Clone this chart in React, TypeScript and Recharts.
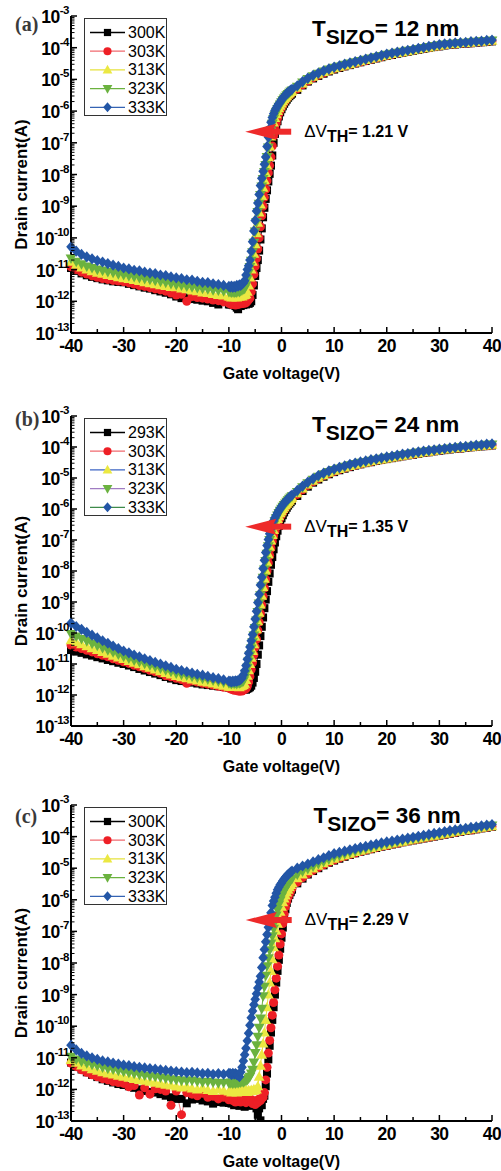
import React from 'react';
import { LineChart, Line, XAxis, YAxis, ReferenceDot } from 'recharts';

const SANS = '"Liberation Sans", Arial, Helvetica, sans-serif';
const SERIF = '"Liberation Serif", "Times New Roman", serif';

// gate voltage grid (V): 1 V steps off/on, 0.25 V steps through the switch-on
const gateV = [
  -40, -39, -38, -37, -36, -35, -34, -33, -32, -31, -30, -29, -28, -27, -26, -25, -24, -23, -22, -21, -20,
  -19, -18, -17, -16, -15, -14, -13, -12, -11, -10,
  -9.75, -9.5, -9.25, -9, -8.75, -8.5, -8.25, -8, -7.75, -7.5, -7.25, -7, -6.75, -6.5, -6.25, -6,
  -5.75, -5.5, -5.25, -5, -4.75, -4.5, -4.25, -4, -3.75, -3.5, -3.25, -3, -2.75, -2.5, -2.25, -2,
  -1.75, -1.5, -1.25, -1, -0.75, -0.5, -0.25, 0, 0.25, 0.5, 0.75, 1, 1.25, 1.5, 1.75, 2,
  3, 4, 5, 6, 7, 8, 9, 10, 11, 12, 13, 14, 15, 16, 17, 18, 19, 20, 21, 22, 23, 24, 25, 26, 27, 28, 29, 30,
  31, 32, 33, 34, 35, 36, 37, 38, 39, 40,
];

// drain current, log10(A). rows: -40..-10 / -9.75..2 / 3..40
// (a) T_SIZO = 12 nm
const a300 = [
  -10.95, -11.04, -11.12, -11.18, -11.23, -11.27, -11.31, -11.34, -11.37, -11.39, -11.4, -11.45, -11.49, -11.53, -11.57, -11.6, -11.65, -11.69, -11.73, -11.78, -11.85, -11.9, -11.88, -11.93, -11.95, -11.98, -12.0, -12.05, -12.1, -12.02, -12.1,
  -12.1, -12.05, -12.12, -12.08, -12.15, -12.2, -12.25, -12.12, -12.15, -12.1, -12.12, -12.08, -12.1, -12.05, -12.08, -12.05, -12.0, -11.8, -11.5, -11.2, -10.95, -10.7, -10.4, -10.05, -9.7, -9.35, -9.05, -8.77, -8.5, -8.22, -7.98, -7.72, -7.4, -7.0, -6.72, -6.5, -6.32, -6.17, -6.04, -5.94, -5.85, -5.77, -5.7, -5.64, -5.58, -5.53, -5.49, -5.45,
  -5.33, -5.19, -5.07, -4.97, -4.89, -4.82, -4.75, -4.69, -4.64, -4.59, -4.55, -4.5, -4.46, -4.42, -4.38, -4.34, -4.3, -4.26, -4.23, -4.19, -4.16, -4.13, -4.1, -4.07, -4.04, -4.01, -3.98, -3.96, -3.93, -3.91, -3.9, -3.88, -3.87, -3.86, -3.84, -3.83, -3.82, -3.8,
];
const a303 = [
  -10.91, -11.0, -11.08, -11.14, -11.2, -11.24, -11.28, -11.31, -11.34, -11.36, -11.38, -11.42, -11.46, -11.5, -11.53, -11.57, -11.61, -11.64, -11.68, -11.74, -11.8, -11.78, -12.0, -11.85, -11.88, -11.9, -11.93, -11.96, -11.98, -12.02, -12.06,
  -12.05, -12.1, -12.02, -12.08, -12.12, -12.05, -12.1, -12.06, -12.08, -12.04, -12.07, -12.02, -12.05, -12.0, -11.95, -11.9, -11.7, -11.45, -11.15, -10.9, -10.65, -10.35, -10.0, -9.65, -9.3, -9.0, -8.72, -8.47, -8.2, -7.95, -7.72, -7.45, -7.1, -6.78, -6.55, -6.38, -6.22, -6.08, -5.97, -5.88, -5.8, -5.73, -5.66, -5.6, -5.55, -5.5, -5.46, -5.42,
  -5.3, -5.17, -5.05, -4.95, -4.87, -4.8, -4.73, -4.67, -4.62, -4.58, -4.53, -4.49, -4.45, -4.41, -4.37, -4.33, -4.29, -4.25, -4.22, -4.18, -4.15, -4.12, -4.09, -4.06, -4.03, -4.0, -3.97, -3.95, -3.92, -3.9, -3.89, -3.87, -3.86, -3.85, -3.83, -3.82, -3.81, -3.79,
];
const a313 = [
  -10.75, -10.85, -10.93, -11.0, -11.05, -11.1, -11.13, -11.17, -11.2, -11.24, -11.27, -11.3, -11.33, -11.36, -11.4, -11.43, -11.46, -11.49, -11.52, -11.55, -11.56, -11.6, -11.62, -11.66, -11.68, -11.72, -11.74, -11.77, -11.8, -11.82, -11.85,
  -11.85, -11.88, -11.84, -11.87, -11.85, -11.88, -11.84, -11.86, -11.83, -11.85, -11.82, -11.8, -11.78, -11.7, -11.5, -11.25, -11.0, -10.75, -10.5, -10.2, -9.85, -9.52, -9.2, -8.95, -8.68, -8.42, -8.18, -7.95, -7.72, -7.45, -7.12, -6.8, -6.55, -6.36, -6.22, -6.1, -6.0, -5.91, -5.83, -5.76, -5.69, -5.63, -5.58, -5.53, -5.48, -5.44, -5.4, -5.37,
  -5.26, -5.13, -5.02, -4.92, -4.84, -4.77, -4.71, -4.65, -4.6, -4.56, -4.52, -4.47, -4.43, -4.39, -4.35, -4.31, -4.27, -4.24, -4.2, -4.17, -4.14, -4.11, -4.08, -4.05, -4.02, -3.99, -3.96, -3.94, -3.91, -3.89, -3.88, -3.86, -3.85, -3.84, -3.82, -3.81, -3.8, -3.78,
];
const a323 = [
  -10.65, -10.75, -10.83, -10.9, -10.95, -11.0, -11.03, -11.07, -11.1, -11.14, -11.17, -11.2, -11.23, -11.26, -11.29, -11.32, -11.35, -11.38, -11.41, -11.45, -11.48, -11.5, -11.53, -11.55, -11.58, -11.6, -11.62, -11.65, -11.66, -11.68, -11.7,
  -11.7, -11.72, -11.7, -11.73, -11.7, -11.72, -11.68, -11.7, -11.67, -11.65, -11.62, -11.6, -11.5, -11.3, -11.1, -10.92, -10.72, -10.45, -10.15, -9.8, -9.5, -9.18, -8.92, -8.65, -8.38, -8.14, -7.92, -7.7, -7.45, -7.15, -6.85, -6.6, -6.4, -6.25, -6.13, -6.03, -5.94, -5.86, -5.79, -5.72, -5.66, -5.6, -5.55, -5.5, -5.46, -5.42, -5.38, -5.35,
  -5.23, -5.1, -4.99, -4.9, -4.82, -4.75, -4.69, -4.63, -4.59, -4.54, -4.5, -4.46, -4.42, -4.38, -4.34, -4.3, -4.26, -4.22, -4.19, -4.16, -4.13, -4.1, -4.07, -4.04, -4.01, -3.98, -3.95, -3.92, -3.9, -3.88, -3.87, -3.85, -3.84, -3.83, -3.81, -3.8, -3.79, -3.77,
];
const a333 = [
  -10.28, -10.42, -10.52, -10.6, -10.66, -10.72, -10.76, -10.81, -10.86, -10.9, -10.95, -10.98, -11.02, -11.04, -11.08, -11.11, -11.13, -11.17, -11.19, -11.23, -11.26, -11.28, -11.32, -11.33, -11.37, -11.4, -11.41, -11.45, -11.47, -11.5, -11.53,
  -11.55, -11.52, -11.56, -11.53, -11.55, -11.5, -11.52, -11.48, -11.5, -11.45, -11.42, -11.35, -11.17, -11.0, -10.88, -10.7, -10.42, -10.12, -9.78, -9.45, -9.15, -8.9, -8.63, -8.35, -8.12, -7.9, -7.68, -7.45, -7.12, -6.82, -6.55, -6.35, -6.2, -6.08, -5.98, -5.9, -5.83, -5.77, -5.71, -5.64, -5.59, -5.54, -5.49, -5.45, -5.41, -5.37, -5.34, -5.31,
  -5.2, -5.07, -4.96, -4.87, -4.8, -4.73, -4.67, -4.61, -4.57, -4.52, -4.48, -4.44, -4.4, -4.36, -4.32, -4.28, -4.24, -4.2, -4.17, -4.14, -4.11, -4.08, -4.05, -4.02, -3.99, -3.96, -3.93, -3.9, -3.88, -3.87, -3.85, -3.84, -3.83, -3.81, -3.8, -3.79, -3.77, -3.76,
];

// (b) T_SIZO = 24 nm
const b293 = [
  -10.55, -10.6, -10.64, -10.69, -10.73, -10.78, -10.82, -10.87, -10.91, -10.96, -11.0, -11.05, -11.1, -11.16, -11.21, -11.26, -11.31, -11.36, -11.42, -11.47, -11.52, -11.55, -11.58, -11.6, -11.63, -11.66, -11.68, -11.7, -11.72, -11.74, -11.76,
  -11.76, -11.78, -11.75, -11.8, -11.77, -11.79, -11.82, -11.8, -11.83, -11.8, -11.82, -11.8, -11.83, -11.8, -11.78, -11.75, -11.7, -11.6, -11.45, -11.25, -11.0, -10.7, -10.4, -10.1, -9.8, -9.5, -9.2, -8.92, -8.65, -8.35, -8.08, -7.8, -7.55, -7.3, -7.08, -6.88, -6.7, -6.55, -6.42, -6.3, -6.2, -6.11, -6.03, -5.96, -5.89, -5.83, -5.78, -5.73,
  -5.58, -5.42, -5.28, -5.15, -5.05, -4.96, -4.88, -4.81, -4.75, -4.7, -4.65, -4.6, -4.56, -4.52, -4.49, -4.45, -4.42, -4.39, -4.36, -4.33, -4.3, -4.27, -4.25, -4.22, -4.19, -4.17, -4.14, -4.12, -4.1, -4.08, -4.06, -4.05, -4.03, -4.01, -4.0, -3.98, -3.97, -3.95,
];
const b303 = [
  -10.39, -10.45, -10.5, -10.56, -10.61, -10.67, -10.72, -10.77, -10.83, -10.88, -10.93, -10.98, -11.04, -11.09, -11.14, -11.2, -11.25, -11.3, -11.38, -11.41, -11.46, -11.5, -11.62, -11.55, -11.58, -11.62, -11.65, -11.68, -11.72, -11.75, -11.78,
  -11.78, -11.82, -11.8, -11.85, -11.82, -11.86, -11.83, -11.88, -11.85, -11.87, -11.84, -11.82, -11.8, -11.72, -11.58, -11.4, -11.18, -10.95, -10.7, -10.45, -10.2, -9.92, -9.65, -9.38, -9.1, -8.82, -8.55, -8.28, -8.0, -7.74, -7.5, -7.26, -7.05, -6.87, -6.72, -6.58, -6.46, -6.36, -6.26, -6.18, -6.1, -6.03, -5.96, -5.9, -5.84, -5.79, -5.74, -5.69,
  -5.53, -5.38, -5.24, -5.12, -5.02, -4.93, -4.86, -4.79, -4.73, -4.68, -4.63, -4.59, -4.55, -4.51, -4.48, -4.44, -4.41, -4.38, -4.35, -4.32, -4.29, -4.26, -4.24, -4.21, -4.18, -4.16, -4.13, -4.11, -4.09, -4.07, -4.05, -4.04, -4.02, -4.0, -3.99, -3.97, -3.96, -3.94,
];
const b313 = [
  -10.23, -10.3, -10.36, -10.43, -10.49, -10.55, -10.61, -10.67, -10.73, -10.79, -10.84, -10.9, -10.96, -11.01, -11.07, -11.12, -11.18, -11.23, -11.29, -11.34, -11.39, -11.43, -11.46, -11.5, -11.53, -11.57, -11.6, -11.63, -11.67, -11.7, -11.73,
  -11.72, -11.74, -11.7, -11.73, -11.71, -11.74, -11.72, -11.75, -11.72, -11.7, -11.68, -11.64, -11.52, -11.38, -11.2, -11.0, -10.8, -10.58, -10.36, -10.12, -9.88, -9.62, -9.35, -9.08, -8.8, -8.52, -8.25, -7.98, -7.72, -7.46, -7.22, -7.02, -6.84, -6.68, -6.54, -6.42, -6.32, -6.23, -6.14, -6.07, -6.0, -5.94, -5.88, -5.83, -5.78, -5.73, -5.68, -5.64,
  -5.49, -5.34, -5.21, -5.09, -4.99, -4.91, -4.83, -4.77, -4.71, -4.66, -4.61, -4.57, -4.53, -4.5, -4.46, -4.43, -4.4, -4.37, -4.34, -4.31, -4.28, -4.25, -4.22, -4.2, -4.17, -4.15, -4.12, -4.1, -4.08, -4.06, -4.04, -4.03, -4.01, -3.99, -3.98, -3.96, -3.95, -3.93,
];
const b323 = [
  -10.03, -10.11, -10.19, -10.26, -10.34, -10.41, -10.48, -10.55, -10.62, -10.69, -10.76, -10.82, -10.88, -10.93, -10.99, -11.04, -11.09, -11.14, -11.2, -11.25, -11.3, -11.34, -11.37, -11.41, -11.44, -11.47, -11.5, -11.53, -11.56, -11.59, -11.62,
  -11.62, -11.64, -11.6, -11.63, -11.61, -11.64, -11.6, -11.62, -11.6, -11.58, -11.55, -11.45, -11.3, -11.12, -10.92, -10.72, -10.5, -10.3, -10.08, -9.84, -9.6, -9.32, -9.05, -8.78, -8.5, -8.22, -7.95, -7.68, -7.44, -7.2, -7.0, -6.82, -6.66, -6.52, -6.4, -6.3, -6.21, -6.13, -6.06, -5.99, -5.93, -5.87, -5.82, -5.77, -5.72, -5.67, -5.63, -5.59,
  -5.45, -5.3, -5.17, -5.06, -4.96, -4.88, -4.81, -4.74, -4.69, -4.64, -4.59, -4.55, -4.51, -4.48, -4.44, -4.41, -4.38, -4.35, -4.32, -4.29, -4.26, -4.23, -4.2, -4.18, -4.15, -4.13, -4.11, -4.09, -4.07, -4.05, -4.03, -4.01, -4.0, -3.98, -3.96, -3.95, -3.93, -3.92,
];
const b333 = [
  -9.68, -9.79, -9.88, -9.98, -10.07, -10.16, -10.25, -10.33, -10.42, -10.5, -10.58, -10.64, -10.71, -10.77, -10.83, -10.89, -10.95, -11.0, -11.06, -11.11, -11.17, -11.21, -11.25, -11.29, -11.33, -11.36, -11.4, -11.44, -11.47, -11.51, -11.55,
  -11.56, -11.58, -11.55, -11.57, -11.54, -11.56, -11.53, -11.52, -11.5, -11.45, -11.35, -11.22, -11.05, -10.85, -10.65, -10.45, -10.25, -10.05, -9.8, -9.55, -9.3, -9.02, -8.75, -8.45, -8.2, -7.92, -7.65, -7.4, -7.18, -6.98, -6.8, -6.64, -6.5, -6.38, -6.28, -6.2, -6.12, -6.05, -5.98, -5.92, -5.86, -5.81, -5.76, -5.71, -5.67, -5.62, -5.58, -5.55,
  -5.4, -5.26, -5.13, -5.02, -4.92, -4.84, -4.77, -4.71, -4.66, -4.61, -4.56, -4.52, -4.48, -4.45, -4.41, -4.38, -4.35, -4.32, -4.29, -4.26, -4.23, -4.21, -4.18, -4.16, -4.13, -4.11, -4.09, -4.07, -4.05, -4.03, -4.01, -3.99, -3.98, -3.96, -3.94, -3.93, -3.91, -3.9,
];

// (c) T_SIZO = 36 nm
const c300 = [
  -11.15, -11.27, -11.37, -11.46, -11.54, -11.61, -11.68, -11.73, -11.78, -11.83, -11.86, -11.9, -11.95, -12.0, -12.05, -12.08, -12.1, -12.15, -12.2, -12.25, -12.3, -12.3, -12.44, -12.32, -12.3, -12.35, -12.38, -12.45, -12.4, -12.42, -12.43,
  -12.42, -12.45, -12.4, -12.5, -12.44, -12.48, -12.42, -12.52, -12.45, -12.5, -12.44, -12.55, -12.48, -12.5, -12.45, -12.52, -12.48, -12.5, -12.45, -12.46, -12.6, -12.8, -12.6, -12.98, -12.5, -12.3, -12.2, -11.9, -11.5, -11.05, -10.62, -10.2, -9.8, -9.4, -9.0, -8.62, -8.25, -7.9, -7.55, -7.2, -6.88, -6.56, -6.3, -6.1, -5.96, -5.85, -5.76, -5.68,
  -5.48, -5.33, -5.2, -5.09, -5.0, -4.91, -4.83, -4.76, -4.7, -4.64, -4.58, -4.53, -4.48, -4.44, -4.4, -4.36, -4.32, -4.29, -4.25, -4.22, -4.18, -4.15, -4.12, -4.09, -4.06, -4.03, -4.0, -3.97, -3.94, -3.91, -3.88, -3.85, -3.82, -3.8, -3.77, -3.74, -3.72, -3.69,
];
const c303 = [
  -11.17, -11.28, -11.38, -11.46, -11.54, -11.6, -11.66, -11.7, -11.75, -11.78, -11.81, -11.92, -11.88, -12.18, -11.95, -12.15, -11.98, -12.0, -12.05, -12.5, -12.05, -12.8, -12.1, -12.15, -12.2, -12.12, -12.25, -12.22, -12.3, -12.25, -12.33,
  -12.3, -12.25, -12.35, -12.28, -12.4, -12.3, -12.35, -12.28, -12.4, -12.32, -12.38, -12.3, -12.42, -12.35, -12.3, -12.38, -12.32, -12.45, -12.4, -12.48, -12.35, -12.42, -12.3, -12.35, -12.28, -12.25, -12.1, -11.7, -11.3, -10.85, -10.45, -10.05, -9.65, -9.25, -8.85, -8.48, -8.1, -7.75, -7.4, -7.08, -6.75, -6.45, -6.22, -6.05, -5.92, -5.81, -5.72, -5.64,
  -5.45, -5.3, -5.18, -5.07, -4.98, -4.89, -4.81, -4.74, -4.68, -4.62, -4.57, -4.52, -4.47, -4.43, -4.39, -4.35, -4.31, -4.28, -4.24, -4.21, -4.17, -4.14, -4.11, -4.08, -4.05, -4.02, -3.99, -3.96, -3.93, -3.9, -3.87, -3.84, -3.81, -3.79, -3.76, -3.73, -3.71, -3.68,
];
const c313 = [
  -11.07, -11.16, -11.24, -11.3, -11.36, -11.41, -11.46, -11.5, -11.53, -11.57, -11.6, -11.63, -11.67, -11.7, -11.73, -11.76, -11.79, -11.82, -11.85, -11.88, -11.91, -11.94, -11.92, -11.97, -12.0, -11.96, -12.02, -12.05, -12.0, -12.04, -12.07,
  -12.05, -12.1, -12.0, -12.08, -12.02, -12.1, -12.04, -12.08, -12.02, -12.06, -12.0, -12.05, -12.02, -12.08, -12.03, -12.06, -12.02, -12.05, -12.0, -12.03, -12.0, -11.9, -11.6, -11.25, -10.9, -10.55, -10.2, -9.8, -9.4, -9.0, -8.62, -8.25, -7.88, -7.5, -7.22, -6.98, -6.76, -6.56, -6.38, -6.22, -6.08, -5.96, -5.86, -5.77, -5.68, -5.6, -5.53, -5.47,
  -5.32, -5.2, -5.1, -5.01, -4.92, -4.84, -4.77, -4.7, -4.64, -4.59, -4.54, -4.49, -4.45, -4.41, -4.37, -4.33, -4.29, -4.26, -4.22, -4.19, -4.16, -4.12, -4.09, -4.06, -4.03, -4.0, -3.97, -3.94, -3.91, -3.88, -3.85, -3.82, -3.8, -3.77, -3.74, -3.72, -3.69, -3.67,
];
const c323 = [
  -10.97, -11.05, -11.12, -11.17, -11.22, -11.26, -11.3, -11.34, -11.37, -11.41, -11.44, -11.47, -11.5, -11.53, -11.56, -11.58, -11.6, -11.62, -11.65, -11.68, -11.7, -11.72, -11.73, -11.72, -11.75, -11.77, -11.76, -11.78, -11.8, -11.79, -11.8,
  -11.8, -11.78, -11.82, -11.79, -11.81, -11.78, -11.8, -11.76, -11.78, -11.75, -11.77, -11.74, -11.72, -11.7, -11.65, -11.6, -11.5, -11.38, -11.15, -10.85, -10.6, -10.33, -10.05, -9.76, -9.45, -9.05, -8.75, -8.4, -8.1, -7.85, -7.6, -7.38, -7.15, -6.92, -6.7, -6.5, -6.32, -6.15, -6.02, -5.9, -5.8, -5.72, -5.64, -5.57, -5.5, -5.44, -5.38, -5.33,
  -5.2, -5.1, -5.02, -4.94, -4.86, -4.79, -4.72, -4.65, -4.6, -4.55, -4.5, -4.46, -4.42, -4.38, -4.34, -4.3, -4.27, -4.23, -4.2, -4.17, -4.13, -4.1, -4.07, -4.04, -4.01, -3.98, -3.95, -3.92, -3.89, -3.86, -3.83, -3.8, -3.78, -3.75, -3.73, -3.7, -3.68, -3.65,
];
const c333 = [
  -10.6, -10.75, -10.86, -10.94, -11.0, -11.05, -11.1, -11.13, -11.17, -11.2, -11.23, -11.25, -11.28, -11.3, -11.32, -11.34, -11.36, -11.38, -11.4, -11.42, -11.44, -11.45, -11.47, -11.46, -11.48, -11.5, -11.49, -11.52, -11.5, -11.52, -11.49,
  -11.5, -11.53, -11.49, -11.52, -11.5, -11.53, -11.55, -11.6, -11.45, -11.3, -11.1, -10.9, -10.7, -10.46, -10.22, -9.97, -9.73, -9.52, -9.32, -9.15, -8.97, -8.79, -8.6, -8.42, -8.14, -7.83, -7.57, -7.33, -7.1, -6.87, -6.64, -6.41, -6.18, -6.04, -5.92, -5.79, -5.68, -5.6, -5.52, -5.47, -5.4, -5.34, -5.29, -5.24, -5.2, -5.16, -5.12, -5.09,
  -5.0, -4.93, -4.87, -4.8, -4.73, -4.67, -4.6, -4.54, -4.5, -4.46, -4.42, -4.38, -4.34, -4.31, -4.27, -4.24, -4.2, -4.17, -4.14, -4.11, -4.08, -4.05, -4.02, -3.99, -3.96, -3.93, -3.9, -3.87, -3.84, -3.81, -3.79, -3.76, -3.74, -3.71, -3.69, -3.66, -3.64, -3.62,
];

const tempsAC = ['300K', '303K', '313K', '323K', '333K'];
const tempsB = ['293K', '303K', '313K', '323K', '333K'];

const xTicks = [-40, -35, -30, -25, -20, -15, -10, -5, 0, 5, 10, 15, 20, 25, 30, 35, 40];
const topTicks = [-40, -32, -24, -16, -8, 0, 8, 16, 24, 32, 40];
const decades = [-13, -12, -11, -10, -9, -8, -7, -6, -5, -4, -3];
const yMajor = decades.map((e) => Math.pow(10, e));
const yAll = [
  ...yMajor,
  ...decades.slice(0, -1).flatMap((e) => [2, 3, 4, 5, 6, 7, 8, 9].map((k) => k * Math.pow(10, e))),
].sort((p, q) => p - q);

const markerFill = ['#000000', '#ee1f26', '#ebe842', '#6bb23f', '#2356a6'];
const markerKind = ['square', 'circle', 'up', 'down', 'diamond'];
const lineAC = ['#000000', '#f06a6f', '#e6e23c', '#6bb23f', '#3563b3'];
const lineB = ['#000000', '#f06a6f', '#3d64c4', '#a07cc2', '#3e8a4a'];

function Marker({ kind, cx, cy, fill, s = 1 }: { kind: string; cx: number; cy: number; fill: string; s?: number }) {
  switch (kind) {
    case 'square':
      return <rect x={cx - 4 * s} y={cy - 4 * s} width={8 * s} height={8 * s} fill={fill} />;
    case 'circle':
      return <circle cx={cx} cy={cy} r={4.5 * s} fill={fill} />;
    case 'up':
      return <polygon points={`${cx},${cy - 5.6 * s} ${cx - 5.4 * s},${cy + 4 * s} ${cx + 5.4 * s},${cy + 4 * s}`} fill={fill} />;
    case 'down':
      return <polygon points={`${cx},${cy + 5.6 * s} ${cx - 5.4 * s},${cy - 4 * s} ${cx + 5.4 * s},${cy - 4 * s}`} fill={fill} />;
    default:
      return <polygon points={`${cx},${cy - 5.6 * s} ${cx + 4.8 * s},${cy} ${cx},${cy + 5.6 * s} ${cx - 4.8 * s},${cy}`} fill={fill} />;
  }
}

const dotFor = (k: number) => (p: any) => {
  const { cx, cy, index } = p;
  if (cx == null || cy == null || !isFinite(cy)) return <g key={`n${index}`} />;
  return <Marker key={`m${index}`} kind={markerKind[k]} cx={cx} cy={cy} fill={markerFill[k]} />;
};

function LeftTick(props: any) {
  const { x, y, payload } = props;
  const e = Math.log10(payload.value);
  const major = Math.abs(e - Math.round(e)) < 1e-6;
  return (
    <g>
      <line x1={x} x2={x + (major ? 6 : 3.5)} y1={y} y2={y} stroke="#000" strokeWidth={major ? 1.5 : 1} />
      {major && (
        <text x={x - 2} y={y + 7} textAnchor="end" fontFamily={SANS} fontWeight="bold" fontSize={17.5} fill="#000" letterSpacing={-0.5}>
          10
          <tspan dy={-9} fontSize={11.5}>{Math.round(e)}</tspan>
        </text>
      )}
    </g>
  );
}

function RightTick(props: any) {
  const { x, y } = props;
  return <line x1={x} x2={x - 5} y1={y} y2={y} stroke="#000" strokeWidth={1.2} />;
}

function BottomTick(props: any) {
  const { x, y, payload } = props;
  const major = payload.value % 10 === 0;
  return (
    <g>
      <line x1={x} x2={x} y1={y} y2={y - (major ? 6 : 4)} stroke="#000" strokeWidth={1.5} />
      {major && (
        <text x={x} y={y + 19} textAnchor="middle" fontFamily={SANS} fontWeight="bold" fontSize={17.5} fill="#000" letterSpacing={-0.6}>
          {payload.value}
        </text>
      )}
    </g>
  );
}

function TopTick(props: any) {
  const { x, y } = props;
  return <line x1={x} x2={x} y1={y} y2={y + 5} stroke="#000" strokeWidth={1.2} />;
}

function LegendBox({ names, lineColors }: { names: string[]; lineColors: string[] }) {
  return (
    <svg width={83} height={98} style={{ position: 'absolute', left: 84, top: 18 }}>
      <rect x={0.5} y={0.5} width={82} height={97} fill="#fff" stroke="#333" strokeWidth={1} />
      {names.map((n, i) => {
        const y = 14.5 + i * 18.7;
        return (
          <g key={n}>
            <line x1={6} x2={41} y1={y} y2={y} stroke={lineColors[i]} strokeWidth={1.3} />
            <Marker kind={markerKind[i]} cx={23.5} cy={y} fill={markerFill[i]} s={0.9} />
            <text x={44} y={y + 5.5} fontFamily={SANS} fontSize={16} fill="#000">
              {n}
            </text>
          </g>
        );
      })}
    </svg>
  );
}

type PanelCfg = {
  tag: string;
  tagDy: number;
  top: number;
  plotH: number;
  names: string[];
  lineColors: string[];
  series: number[][];
  thick: string;
  dvth: string;
  arrow: [number, number];
  title: [number, number];
};

const panels: PanelCfg[] = [
  { tag: '(a)', tagDy: 15, top: 0, plotH: 317, names: tempsAC, lineColors: lineAC, series: [a300, a303, a313, a323, a333], thick: '12', dvth: '1.21', arrow: [-6.9, -6.65], title: [5.8, -3.63] },
  { tag: '(b)', tagDy: 10, top: 400, plotH: 310, names: tempsB, lineColors: lineB, series: [b293, b303, b313, b323, b333], thick: '24', dvth: '1.35', arrow: [-6.9, -6.57], title: [5.8, -3.52] },
  { tag: '(c)', tagDy: 18, top: 789, plotH: 316, names: tempsAC, lineColors: lineAC, series: [c300, c303, c313, c323, c333], thick: '36', dvth: '2.29', arrow: [-6.8, -6.64], title: [6.1, -3.57] },
];

function buildRows(series: number[][]) {
  return gateV.map((v, i) => {
    const row: Record<string, number> = { v };
    series.forEach((s, k) => {
      if (s[i] !== undefined) row[`s${k}`] = Math.pow(10, s[i]);
    });
    return row;
  });
}

function Panel({ cfg }: { cfg: PanelCfg }) {
  const rows = buildRows(cfg.series);
  const plotTop = 16;
  const height = plotTop + cfg.plotH + 57;

  const arrowShape = (p: any) => (
    <g>
      <polygon points={`${p.cx},${p.cy} ${p.cx + 31},${p.cy - 8} ${p.cx + 27},${p.cy} ${p.cx + 31},${p.cy + 8}`} fill="#ee2a2a" />
      <rect x={p.cx + 26} y={p.cy - 3} width={20} height={6} fill="#ee2a2a" />
      <text x={p.cx + 59} y={p.cy + 5} fontFamily={SANS} fill="#000">
        <tspan fontSize={17}>ΔV</tspan>
        <tspan fontSize={16} fontWeight="bold" dy={5}>TH</tspan>
        <tspan fontSize={16} fontWeight="bold" dy={-5}>= {cfg.dvth} V</tspan>
      </text>
    </g>
  );

  const titleShape = (p: any) => (
    <text x={p.cx} y={p.cy} fontFamily={SANS} fontWeight="bold" fill="#000">
      <tspan fontSize={22.5}>T</tspan>
      <tspan fontSize={21} dy={8}>SIZO</tspan>
      <tspan fontSize={22.5} dy={-8}>= {cfg.thick} nm</tspan>
    </text>
  );

  const tagShape = (p: any) => (
    <text x={p.cx - 56} y={p.cy + cfg.tagDy} fontFamily={SERIF} fontWeight="bold" fontSize={20} fill="#3a3a3a">
      {cfg.tag}
    </text>
  );

  return (
    <div style={{ position: 'absolute', left: 0, top: cfg.top }}>
      <LineChart width={501} height={height} data={rows} margin={{ top: plotTop, right: 9, bottom: 0, left: 0 }}>
        <XAxis
          xAxisId="b"
          dataKey="v"
          type="number"
          domain={[-40, 40]}
          ticks={xTicks}
          interval={0}
          tickSize={0}
          tickMargin={0}
          tickLine={false}
          tick={BottomTick}
          axisLine={{ stroke: '#000', strokeWidth: 2 }}
          height={57}
          label={{
            content: (lp: any) => {
              const vb = lp.viewBox;
              return (
                <text x={vb.x + vb.width / 2} y={vb.y + 46} textAnchor="middle" fontFamily={SANS} fontWeight="bold" fontSize={16} fill="#000">
                  Gate voltage(V)
                </text>
              );
            },
          }}
        />
        <XAxis
          xAxisId="t"
          orientation="top"
          type="number"
          domain={[-40, 40]}
          ticks={topTicks}
          interval={0}
          tickSize={0}
          tickMargin={0}
          tickLine={false}
          tick={TopTick}
          axisLine={{ stroke: '#000', strokeWidth: 1.5 }}
          height={0}
        />
        <YAxis
          yAxisId="l"
          scale="log"
          domain={[1e-13, 1e-3]}
          allowDataOverflow
          ticks={yAll}
          interval={0}
          tickSize={0}
          tickMargin={0}
          tickLine={false}
          tick={LeftTick}
          axisLine={{ stroke: '#000', strokeWidth: 2 }}
          width={71}
          label={{
            content: (lp: any) => {
              const vb = lp.viewBox;
              const cy = vb.y + vb.height / 2 + 10;
              return (
                <text transform={`translate(27, ${cy}) rotate(-90)`} textAnchor="middle" fontFamily={SANS} fontWeight="bold" fontSize={17} fill="#000">
                  Drain current(A)
                </text>
              );
            },
          }}
        />
        <YAxis
          yAxisId="r"
          orientation="right"
          scale="log"
          domain={[1e-13, 1e-3]}
          allowDataOverflow
          ticks={yMajor}
          interval={0}
          tickSize={0}
          tickMargin={0}
          tickLine={false}
          tick={RightTick}
          axisLine={{ stroke: '#000', strokeWidth: 1.5 }}
          width={0}
        />
        {cfg.series.map((_, k) => (
          <Line
            key={k}
            xAxisId="b"
            yAxisId="l"
            dataKey={`s${k}`}
            stroke={cfg.lineColors[k]}
            strokeWidth={1}
            dot={dotFor(k)}
            activeDot={false}
            isAnimationActive={false}
          />
        ))}
        <ReferenceDot xAxisId="b" yAxisId="l" x={cfg.arrow[0]} y={Math.pow(10, cfg.arrow[1])} ifOverflow="visible" shape={arrowShape} />
        <ReferenceDot xAxisId="b" yAxisId="l" x={cfg.title[0]} y={Math.pow(10, cfg.title[1])} ifOverflow="visible" shape={titleShape} />
        <ReferenceDot xAxisId="b" yAxisId="l" x={-40} y={1e-3} ifOverflow="visible" shape={tagShape} />
      </LineChart>
      <LegendBox names={cfg.names} lineColors={cfg.lineColors} />
    </div>
  );
}

export default function App() {
  return (
    <div style={{ position: 'absolute', left: 0, top: 0, width: 501, height: 1171, background: '#fff' }}>
      {panels.map((p) => (
        <Panel key={p.tag} cfg={p} />
      ))}
    </div>
  );
}
